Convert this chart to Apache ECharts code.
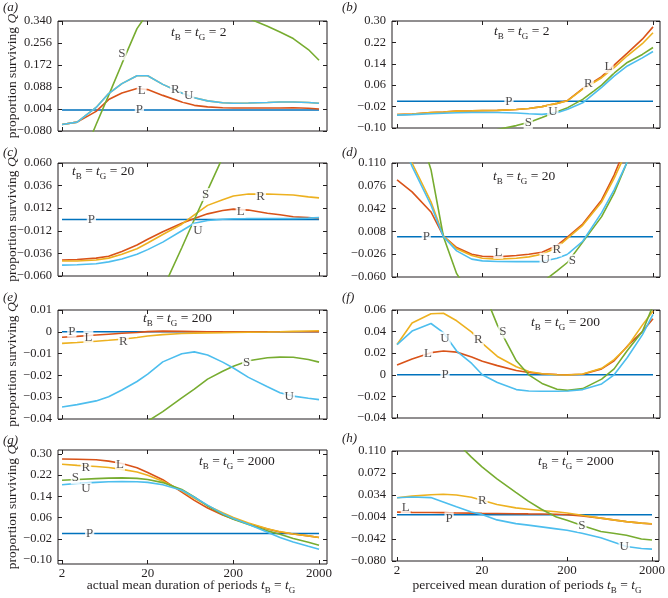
<!DOCTYPE html>
<html><head><meta charset="utf-8">
<script src="https://cdn.jsdelivr.net/npm/echarts@6/dist/echarts.min.js"></script>
<style>html,body{margin:0;padding:0;background:#fff}#c{width:668px;height:598px}</style>
</head><body><div id="c"></div>
<script>
// ---------------- data ----------------
const periods = [2,3,5,7,10,15,20,30,50,70,100,150,200,300,500,700,1000,1500,2000];
const xTicks = [2,20,200,2000];
const seriesNames = ['P','L','R','S','U'];
const zeros = [0,0,0,0,0,0,0,0,0,0,0,0,0,0,0,0,0,0,0];

// (a) actual, t = 2
const aP = zeros;
const aL = [-0.055,-0.046,-0.005,0.040,0.065,0.082,0.078,0.056,0.031,0.018,0.012,0.009,0.008,0.008,0.008,0.008,0.009,0.007,0.004];
const aR = [-0.055,-0.046,0.010,0.063,0.101,0.131,0.131,0.098,0.065,0.047,0.035,0.028,0.026,0.027,0.029,0.031,0.031,0.029,0.026];
const aS = [-0.36,-0.23,-0.055,0.056,0.177,0.311,0.37,0.41,0.43,0.43,0.40,0.39,0.38,0.35,0.320,0.298,0.273,0.231,0.190];
const aU = [-0.055,-0.046,0.010,0.063,0.101,0.131,0.131,0.098,0.065,0.047,0.035,0.028,0.026,0.027,0.029,0.031,0.031,0.029,0.026];
const aTicks = [-0.080,0.004,0.088,0.172,0.256,0.340];
const aTickLabels = ['\u22120.080','0.004','0.088','0.172','0.256','0.340'];

// (b) perceived, t = 2
const bP = zeros;
const bL = [-0.050,-0.048,-0.042,-0.040,-0.037,-0.036,-0.035,-0.034,-0.031,-0.027,-0.020,-0.008,0.003,0.047,0.092,0.135,0.180,0.232,0.278];
const bR = [-0.050,-0.048,-0.042,-0.040,-0.037,-0.036,-0.035,-0.034,-0.031,-0.027,-0.020,-0.008,0.002,0.045,0.088,0.126,0.170,0.215,0.256];
const bS = [-0.18,-0.17,-0.16,-0.15,-0.14,-0.13,-0.12,-0.106,-0.091,-0.079,-0.061,-0.039,-0.024,0.007,0.060,0.105,0.145,0.175,0.201];
const bU = [-0.052,-0.050,-0.047,-0.045,-0.043,-0.042,-0.042,-0.042,-0.044,-0.047,-0.049,-0.043,-0.030,-0.006,0.052,0.094,0.132,0.162,0.186];
const bTicks = [-0.10,-0.02,0.06,0.14,0.22,0.30];
const bTickLabels = ['\u22120.10','\u22120.02','0.06','0.14','0.22','0.30'];

// (c) actual, t = 20
const cP = zeros;
const cL = [-0.043,-0.0425,-0.041,-0.039,-0.034,-0.027,-0.021,-0.013,-0.004,0.001,0.006,0.0095,0.011,0.010,0.0067,0.005,0.003,0.002,0.001];
const cR = [-0.044,-0.044,-0.043,-0.041,-0.037,-0.031,-0.025,-0.016,-0.005,0.005,0.015,0.021,0.025,0.027,0.027,0.0265,0.026,0.024,0.023];
const cS = [-0.27,-0.24,-0.21,-0.19,-0.17,-0.134,-0.109,-0.074,-0.030,0.000,0.031,0.066,0.095,0.12,0.15,0.16,0.165,0.17,0.17];
const cU = [-0.0485,-0.048,-0.047,-0.045,-0.042,-0.037,-0.032,-0.024,-0.012,-0.004,-0.001,0.0003,0.0008,0.001,0.001,0.001,0.001,0.0015,0.002];
const cTicks = [-0.060,-0.036,-0.012,0.012,0.036,0.060];
const cTickLabels = ['\u22120.060','\u22120.036','\u22120.012','0.012','0.036','0.060'];

// (d) perceived, t = 20
const dP = zeros;
const dL = [0.085,0.067,0.037,0.001,-0.016,-0.026,-0.029,-0.030,-0.028,-0.026,-0.023,-0.013,0.000,0.019,0.055,0.092,0.14,0.20,0.25];
const dR = [0.156,0.110,0.052,0.001,-0.018,-0.028,-0.032,-0.0333,-0.032,-0.030,-0.026,-0.016,-0.002,0.017,0.052,0.087,0.13,0.19,0.24];
const dS = [0.28,0.19,0.10,0.0,-0.055,-0.09,-0.11,-0.12,-0.11,-0.09,-0.068,-0.051,-0.038,-0.008,0.030,0.065,0.112,0.17,0.22];
const dU = [0.16,0.105,0.047,0.000,-0.021,-0.0334,-0.036,-0.0369,-0.037,-0.037,-0.037,-0.032,-0.026,-0.0067,0.036,0.070,0.112,0.16,0.21];
const dTicks = [-0.060,-0.026,0.008,0.042,0.076,0.110];
const dTickLabels = ['\u22120.060','\u22120.026','0.008','0.042','0.076','0.110'];

// (e) actual, t = 200
const eP = zeros;
const eL = [-0.0025,-0.0021,-0.0015,-0.0011,-0.0007,-0.0003,0.0001,0.0003,0.0002,0.0001,0,0,0,0,0,0,0,0,0];
const eR = [-0.0053,-0.0049,-0.0043,-0.0039,-0.0034,-0.0026,-0.0019,-0.0013,-0.0008,-0.0006,-0.0005,-0.0004,-0.0003,-0.0002,-0.0001,0,0.0002,0.0004,0.0005];
const eS = [-0.067,-0.064,-0.060,-0.056,-0.052,-0.046,-0.041,-0.0366,-0.0303,-0.0263,-0.0217,-0.0181,-0.0158,-0.0133,-0.0119,-0.0116,-0.0117,-0.0127,-0.0139];
const eU = [-0.0345,-0.0334,-0.0317,-0.0298,-0.0267,-0.0228,-0.0194,-0.0138,-0.0101,-0.0092,-0.0106,-0.0139,-0.0166,-0.0209,-0.0252,-0.0280,-0.0295,-0.0305,-0.0311];
const eTicks = [-0.04,-0.03,-0.02,-0.01,0,0.01];
const eTickLabels = ['\u22120.04','\u22120.03','\u22120.02','\u22120.01','0','0.01'];

// (f) perceived, t = 200
const fP = zeros;
const fL = [0.009,0.0147,0.0205,0.022,0.021,0.0165,0.0125,0.0085,0.004,0.0022,0.001,0.0003,0.0,0.0005,0.0055,0.013,0.0265,0.040,0.052];
const fR = [0.028,0.048,0.0565,0.057,0.050,0.0395,0.029,0.017,0.0075,0.003,0.001,0.0,-0.0002,0.0008,0.006,0.014,0.026,0.046,0.059];
const fS = [0.2,0.19,0.17,0.15,0.13,0.1,0.08,0.046,0.013,0.0,-0.008,-0.0134,-0.0144,-0.0128,-0.004,0.0055,0.0225,0.040,0.064];
const fU = [0.028,0.0405,0.0475,0.039,0.022,0.0105,0.0,-0.0072,-0.0137,-0.015,-0.0153,-0.0153,-0.015,-0.0137,-0.0085,0.0,0.016,0.037,0.056];
const fTicks = [-0.04,-0.02,0,0.02,0.04,0.06];
const fTickLabels = ['\u22120.04','\u22120.02','0','0.02','0.04','0.06'];

// (g) actual, t = 2000
const gP = zeros;
const gL = [0.281,0.280,0.278,0.273,0.264,0.248,0.230,0.203,0.156,0.125,0.096,0.070,0.055,0.037,0.017,0.006,-0.002,-0.009,-0.015];
const gR = [0.261,0.257,0.253,0.249,0.242,0.232,0.220,0.197,0.161,0.133,0.105,0.078,0.060,0.040,0.018,0.007,-0.002,-0.009,-0.015];
const gS = [0.201,0.204,0.207,0.209,0.210,0.208,0.204,0.192,0.166,0.138,0.104,0.072,0.054,0.034,0.010,-0.003,-0.019,-0.033,-0.044];
const gU = [0.184,0.189,0.193,0.195,0.196,0.195,0.193,0.184,0.163,0.137,0.107,0.075,0.057,0.035,0.005,-0.015,-0.032,-0.048,-0.059];
const gTicks = [-0.10,-0.02,0.06,0.14,0.22,0.30];
const gTickLabels = ['\u22120.10','\u22120.02','0.06','0.14','0.22','0.30'];

// (h) perceived, t = 2000
const hP = zeros;
const hL = [0.0045,0.004,0.0037,0.0035,0.003,0.0027,0.0024,0.0021,0.0017,0.0014,0.0012,0.0008,0.0,-0.002,-0.006,-0.009,-0.012,-0.0145,-0.016];
const hR = [0.0293,0.032,0.0345,0.0352,0.0340,0.030,0.025,0.0176,0.0118,0.0095,0.0071,0.005,0.003,-0.001,-0.006,-0.009,-0.012,-0.0145,-0.0157];
const hS = [0.25,0.21,0.17,0.14,0.125,0.0995,0.0825,0.062,0.0387,0.0235,0.0094,-0.004,-0.0098,-0.0186,-0.029,-0.032,-0.0356,-0.042,-0.0438];
const hU = [0.0293,0.0305,0.0295,0.022,0.0135,0.0045,0.0005,-0.009,-0.0155,-0.018,-0.021,-0.0245,-0.027,-0.032,-0.040,-0.047,-0.055,-0.0585,-0.0595];
const hTicks = [-0.080,-0.042,-0.004,0.034,0.072,0.110];
const hTickLabels = ['\u22120.080','\u22120.042','\u22120.004','0.034','0.072','0.110'];

// in-line curve labels: [period, value, name]
const aLabels = [[16,0,'P'],[17,0.075,'L'],[42,0.078,'R'],[60,0.055,'U'],[10,0.215,'S']];
const bLabels = [[41,0,'P'],[134,-0.040,'U'],[69,-0.081,'S'],[350,0.065,'R'],[603,0.129,'L']];
const cLabels = [[4.4,0,'P'],[95,0.0265,'S'],[417,0.0247,'R'],[243,0.0085,'L'],[77,-0.0113,'U']];
const dLabels = [[4.4,0,'P'],[30.8,-0.0233,'L'],[149,-0.0198,'R'],[109,-0.0334,'U'],[227,-0.0359,'S']];
const eLabels = [[2.6,0.0003,'P'],[4.06,-0.0025,'L'],[10.4,-0.0044,'R'],[286,-0.0139,'S'],[898,-0.0295,'U']];
const fLabels = [[7.3,0.034,'U'],[18,0.0325,'R'],[34.7,0.0397,'S'],[4.6,0.020,'L'],[7.3,0,'P']];
const gLabels = [[9.5,0.261,'L'],[3.8,0.248,'R'],[2.86,0.210,'S'],[3.8,0.169,'U'],[4.2,0,'P']];
const hLabels = [[2.53,0.0125,'L'],[8.2,-0.007,'P'],[20.2,0.0246,'R'],[300,-0.0186,'S'],[942,-0.0555,'U']];

const tValues = ['2','20','200','2000'];

// ---------------- layout ----------------
const colors = {P:'#0072BD', L:'#D95319', R:'#EDB120', S:'#77AC30', U:'#4DBEEE'};
const FONT = '"Liberation Serif","DejaVu Serif",serif';
const TXT = '#231f20';
const leftCol = {left:58, width:269, xmin:0.254, xmax:3.394};
const rightCol = {left:392, width:268, xmin:0.242, xmax:3.383};

const panels = [
  {id:'a', col:leftCol,  top:21,  height:110, ymin:-0.080, ymax:0.340, ticks:aTicks, tl:aTickLabels, data:[aP,aL,aR,aS,aU], labels:aLabels, t:'2',    bottom:false},
  {id:'b', col:rightCol, top:21,  height:107, ymin:-0.10,  ymax:0.30,  ticks:bTicks, tl:bTickLabels, data:[bP,bL,bR,bS,bU], labels:bLabels, t:'2',    bottom:false},
  {id:'c', col:leftCol,  top:163, height:113, ymin:-0.060, ymax:0.060, ticks:cTicks, tl:cTickLabels, data:[cP,cL,cR,cS,cU], labels:cLabels, t:'20',   bottom:false},
  {id:'d', col:rightCol, top:163, height:114, ymin:-0.060, ymax:0.110, ticks:dTicks, tl:dTickLabels, data:[dP,dL,dR,dS,dU], labels:dLabels, t:'20',   bottom:false},
  {id:'e', col:leftCol,  top:310, height:109, ymin:-0.04,  ymax:0.01,  ticks:eTicks, tl:eTickLabels, data:[eP,eL,eR,eS,eU], labels:eLabels, t:'200',  bottom:false},
  {id:'f', col:rightCol, top:310, height:108, ymin:-0.04,  ymax:0.06,  ticks:fTicks, tl:fTickLabels, data:[fP,fL,fR,fS,fU], labels:fLabels, t:'200',  bottom:false},
  {id:'g', col:leftCol,  top:450, height:114, ymin:-0.115, ymax:0.315, ticks:gTicks, tl:gTickLabels, data:[gP,gL,gR,gS,gU], labels:gLabels, t:'2000', bottom:true},
  {id:'h', col:rightCol, top:451, height:110, ymin:-0.080, ymax:0.110, ticks:hTicks, tl:hTickLabels, data:[hP,hL,hR,hS,hU], labels:hLabels, t:'2000', bottom:true}
];
const annot = {a:[202,32], b:[525,31], c:[106,171], d:[527,176], e:[180,318], f:[568,322], g:[239,461], h:[578,461]};
const letterPos = {a:[3,1], b:[342,1], c:[3,146], d:[342,146], e:[3,291], f:[342,291], g:[3,434], h:[342,432]};

const lg = v => Math.log10(v);
const grid = [], xAxis = [], yAxis = [], series = [], graphic = [];

panels.forEach((p, i) => {
  grid.push({left:p.col.left, top:p.top, width:p.col.width, height:p.height, show:true,
    borderColor:'#231f20', borderWidth:1, backgroundColor:'transparent', containLabel:false});
  const xt = xTicks.map(lg);
  const xBase = {type:'value', gridIndex:i, min:p.col.xmin, max:p.col.xmax,
    axisLine:{show:false, onZero:false}, splitLine:{show:false},
    axisTick:{show:true, inside:true, length:4, customValues:xt, lineStyle:{color:'#231f20'}}};
  xAxis.push(Object.assign({}, xBase, {position:'bottom',
    axisLabel:{show:p.bottom, customValues:xt, margin:3, fontFamily:FONT, fontSize:13, color:TXT,
      formatter: v => { let k=0,b=1e9; xt.forEach((q,j)=>{const d=Math.abs(q-v); if(d<b){b=d;k=j;}}); return tValues[k]; }}}));
  xAxis.push(Object.assign({}, xBase, {position:'top', axisLabel:{show:false}}));
  const yBase = {type:'value', gridIndex:i, min:p.ymin, max:p.ymax,
    axisLine:{show:false, onZero:false}, splitLine:{show:false},
    axisTick:{show:true, inside:true, length:4, customValues:p.ticks, lineStyle:{color:'#231f20'}}};
  yAxis.push(Object.assign({}, yBase, {position:'left',
    axisLabel:{show:true, customValues:p.ticks, margin:6, fontFamily:FONT, fontSize:12.5, color:TXT,
      formatter: v => { let k=0,b=1e9; p.ticks.forEach((q,j)=>{const d=Math.abs(q-v); if(d<b){b=d;k=j;}}); return p.tl[k]; }}}));
  yAxis.push(Object.assign({}, yBase, {position:'right', axisLabel:{show:false}}));

  p.data.forEach((vals, s) => {
    const nm = seriesNames[s];
    series.push({type:'line', name:p.id+nm, xAxisIndex:2*i, yAxisIndex:2*i,
      data: periods.map((t,k)=>[lg(t), vals[k]]),
      showSymbol:false, symbol:'none', clip:true, smooth:false, z:2+s,
      lineStyle:{color:colors[nm], width:1.6}, emphasis:{disabled:true}});
  });
  series.push({type:'scatter', xAxisIndex:2*i, yAxisIndex:2*i, z:20, symbolSize:1,
    itemStyle:{color:'rgba(0,0,0,0)'}, silent:true,
    data: p.labels.map(l=>[lg(l[0]), l[1], l[2]]),
    label:{show:true, position:'inside', formatter: q=>q.data[2], fontFamily:FONT, fontSize:13,
      color:TXT, backgroundColor:'#fff', padding:[0,1,0,1], lineHeight:13}});

  const an = annot[p.id];
  graphic.push({type:'text', left:an[0]-28-p.t.length*3, top:an[1]-7, z:30,
    style:{text:'{i|t}{s|B}{n| = }{i|t}{s|G}{n| = '+p.t+'}', fontFamily:FONT, fill:TXT,
      rich:{i:{fontStyle:'italic', fontSize:13.5, fontFamily:FONT, verticalAlign:'top', lineHeight:15},
            n:{fontSize:13.5, fontFamily:FONT, verticalAlign:'top', lineHeight:15},
            s:{fontSize:9, fontFamily:FONT, verticalAlign:'top', lineHeight:9, padding:[8,0,0,0]}}}});
  const lp = letterPos[p.id];
  graphic.push({type:'text', left:lp[0], top:lp[1], z:30,
    style:{text:'('+p.id+')', fontFamily:FONT, fontStyle:'italic', fontSize:13, fill:TXT}});
  if (p.col === leftCol) {
    graphic.push({type:'text', x:12, y:p.top+p.height/2, rotation:Math.PI/2, z:30,
      style:{text:'proportion surviving {i|Q}', fontFamily:FONT, fontSize:13.5, fill:TXT,
        align:'center', verticalAlign:'middle',
        rich:{i:{fontStyle:'italic', fontFamily:FONT, fontSize:13.5}}}});
  }
});

const xName = (txt, cx) => ({type:'text', x:cx, y:578, z:30,
  style:{text:txt+'{i|t}{s|B}{n| = }{i|t}{s|G}', fontFamily:FONT, fontSize:13.5, fill:TXT, align:'center',
    rich:{i:{fontStyle:'italic', fontSize:13.5, fontFamily:FONT, verticalAlign:'top', lineHeight:15},
          n:{fontSize:13.5, fontFamily:FONT, verticalAlign:'top', lineHeight:15},
          s:{fontSize:9, fontFamily:FONT, verticalAlign:'top', lineHeight:9, padding:[8,0,0,0]}}}});
graphic.push(xName('{n|actual mean duration of periods }', 191));
graphic.push(xName('{n|perceived mean duration of periods }', 527));

const chart = echarts.init(document.getElementById('c'), null, {renderer:'canvas'});
chart.setOption({animation:false, backgroundColor:'#fff', grid, xAxis, yAxis, series, graphic});
</script>
</body></html>
